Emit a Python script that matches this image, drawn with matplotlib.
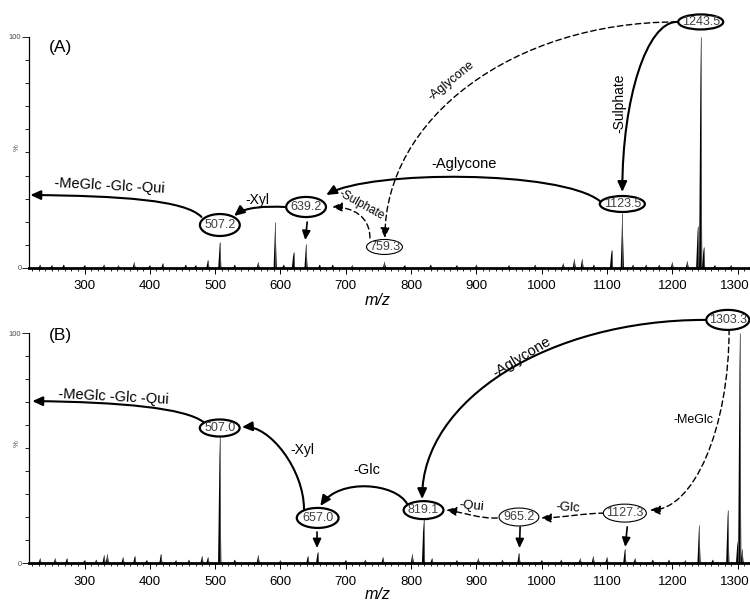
import matplotlib.pyplot as plt
from matplotlib.patches import Ellipse, FancyArrowPatch
from matplotlib.path import Path
from matplotlib.ticker import MultipleLocator
from matplotlib.transforms import offset_copy

plt.rcParams['font.family'] = ['Liberation Sans', 'DejaVu Sans']

# ---------------- data ----------------
# (A) m/z and relative intensity (%)
mz_a = [232, 250, 268, 300, 330, 352, 376, 400, 420, 455, 470, 489, 507.2, 530, 566,
        592, 605, 620, 639.2, 660, 680, 710, 759.3, 790, 830, 870, 900, 950, 990,
        1033, 1050, 1062, 1080, 1107, 1123.5, 1140, 1160, 1180, 1200, 1223,
        1239, 1243.5, 1248, 1265, 1290]
int_a = [1.5, 1.2, 1.5, 1.2, 1.5, 1.2, 2.5, 1.2, 2, 1.5, 1.2, 3.5, 11.3, 1.5, 2.5,
         20, 1.5, 7, 10.4, 1.5, 1.5, 1.2, 2.8, 1.2, 1.5, 1.2, 1.5, 1.2, 1.5,
         2, 4, 4, 1.5, 8, 24, 1.5, 1.5, 1.5, 2.5, 3,
         18, 100, 9, 1.2, 1.2]

# (B)
mz_b = [232, 255, 273, 300, 318, 330, 335, 359, 377, 395, 417, 440, 460, 480, 489,
        507.0, 530, 566, 600, 642, 657.0, 700, 730, 757, 802, 819.1, 832, 870, 903,
        940, 965.2, 1000, 1030, 1059, 1079, 1100, 1127.3, 1143, 1170, 1195, 1220,
        1241, 1262, 1285, 1300, 1303.3, 1307]
int_b = [2, 2, 2, 1.2, 1.5, 3.5, 4, 2.5, 3, 1.2, 4, 1.2, 1.5, 3, 2.5,
         55, 1.5, 3.5, 1.2, 3, 4.8, 1.2, 1.5, 2.5, 4, 19, 2, 1.2, 2,
         1.5, 4.5, 1.2, 1.5, 2, 3, 2.5, 6, 2, 1.5, 1.5, 1.2,
         16.5, 1.5, 23, 10, 100, 6]

# ion labels: text, x (m/z), y (%), ellipse width (m/z), height (%), bold outline
ions_a = [('1243.5', 1243.5, 106.5, 69, 6.5, True),
          ('1123.5', 1123.5, 27.7, 69, 6.9, True),
          ('639.2', 639.2, 26.4, 61, 8.7, True),
          ('507.2', 507.2, 18.6, 61, 9.5, True),
          ('759.3', 759.3, 9.1, 55, 6.5, False)]
ions_b = [('1303.3', 1285, 105.7, 66, 8.7, True),
          ('819.1', 819.1, 23.0, 61, 7.8, True),
          ('965.2', 965.2, 20.0, 61, 7.8, False),
          ('1127.3', 1127.3, 21.7, 66, 7.8, False),
          ('657.0', 657.0, 19.6, 64, 8.7, True),
          ('507.0', 507.0, 58.7, 61, 7.4, True)]

# fragmentation arrows: bezier control points (m/z, %), dashed?
arrows_a = [([(1207, 106.5), (1161, 106.5), (1123.5, 73.4), (1123.5, 32.9)], False),
            ([(1207, 106.5), (955, 106.5), (760, 64.5), (760, 13.0)], True),
            ([(1089, 29.0), (1028, 42.4), (737, 42.4), (670, 31.6)], False),
            ([(737, 13.0), (737, 22.0), (712, 26.4), (679, 26.4)], True),
            ([(607, 26.4), (577, 26.8), (546, 26.4), (529, 22.5)], False),
            ([(479, 22.1), (454, 29.4), (355, 31.2), (217, 31.6)], False)]
arrows_b = [([(1250, 105.7), (1011, 105.7), (817, 70.9), (817, 27.8)], False),
            ([(1287, 101.7), (1287, 58.4), (1233, 23.0), (1166, 23.0)], True),
            ([(1096, 21.7), (1066, 21.7), (1028, 19.6), (999, 19.6)], True),
            ([(932, 19.6), (906, 19.1), (878, 22.2), (854, 23.0)], True),
            ([(794, 25.7), (776, 34.8), (691, 37.0), (661, 24.8)], False),
            ([(636, 23.5), (636, 40.4), (584, 60.0), (541, 59.1)], False),
            ([(482, 61.3), (454, 67.4), (355, 70.0), (220, 70.4)], False)]

# short arrows pointing at peaks: (from), (to)
pointers_a = [((641, 19.9), (638, 12.1))]
pointers_b = [((656, 13.5), (656, 6.5)), ((967, 15.7), (966, 6.5)), ((1131, 15.7), (1128, 7.0))]

# losses: text, x, y, rotation, fontsize
losses_a = [('-Sulphate', 1119, 71.4, 90, 10),
            ('-Aglycone', 862, 81.0, 39, 9),
            ('-Aglycone', 881, 45.0, 0, 10.5),
            ('-Sulphate', 724, 27.3, -29, 8.5),
            ('-Xyl', 564, 29.4, 0, 10),
            ('-MeGlc -Glc -Qui', 338, 35.5, -3, 10.5),
            ('(A)', 263, 95.5, 0, 12.5)]
losses_b = [('-Aglycone', 970, 89.6, 31, 10.5),
            ('-MeGlc', 1232, 62.2, 0, 9),
            ('-Glc', 1040, 23.9, -4, 9.5),
            ('-Qui', 893, 24.8, -5, 9.5),
            ('-Glc', 733, 40.4, 0, 10.5),
            ('-Xyl', 634, 49.1, 0, 10),
            ('-MeGlc -Glc -Qui', 345, 72.2, -3, 10.5),
            ('(B)', 263, 99.1, 0, 12.5)]


def draw_panel(ax, mz, inten, ions, arrows, pointers, losses):
    # peaks: thin stick plus narrow triangle so the base looks heavier
    ax.vlines(mz, 0, inten, color='0.35', lw=0.6)
    for m, h in zip(mz, inten):
        ax.fill([m - 2.5, m, m + 2.5], [0, h, 0], color='k', lw=0)

    ax.set_xlim(215, 1319)
    ax.set_ylim(0, 100)
    for s in ['top', 'right']:
        ax.spines[s].set_visible(False)
    ax.spines['bottom'].set_linewidth(2.0)
    ax.spines['left'].set_linewidth(0.9)
    ax.spines['left'].set_bounds(0, 100)

    ax.set_xticks(range(300, 1400, 100))
    ax.xaxis.set_minor_locator(MultipleLocator(10))
    ax.tick_params(axis='x', which='major', length=4.5, width=0.7, labelsize=9.5, pad=4.5)
    ax.tick_params(axis='x', which='minor', length=2.5, width=0.6)
    ax.set_yticks([0, 100])
    ax.set_yticklabels(['0', '100'])
    ax.yaxis.set_minor_locator(MultipleLocator(10))
    ax.tick_params(axis='y', which='major', length=5, width=0.6, labelsize=5.5, pad=0.5,
                   labelcolor='0.3')
    ax.tick_params(axis='y', which='minor', length=3, width=0.6)
    ax.text(-0.012, 0.52, '%', transform=ax.transAxes, rotation=90, fontsize=5.5,
            ha='right', va='center', color='0.3')
    ax.text(0.483, -0.139, 'm/z', transform=ax.transAxes, style='italic', fontsize=11.5,
            ha='center', va='center')

    for pts, dashed in arrows:
        path = Path(pts, [Path.MOVETO, Path.CURVE4, Path.CURVE4, Path.CURVE4])
        ar = FancyArrowPatch(path=path, arrowstyle='-|>,head_length=0.55,head_width=0.25',
                             mutation_scale=11, lw=1.0 if dashed else 1.5,
                             ls=(0, (4, 2.5)) if dashed else '-', color='k', clip_on=False)
        ax.add_patch(ar)

    for p0, p1 in pointers:
        ax.annotate('', xy=p1, xytext=p0,
                    arrowprops=dict(arrowstyle='-|>,head_length=0.55,head_width=0.25',
                                    mutation_scale=10, lw=1.2, color='k',
                                    shrinkA=0, shrinkB=0))

    for txt, x, y, w, h, bold in ions:
        ax.add_patch(Ellipse((x, y), w, h, facecolor='white', edgecolor='k',
                             lw=1.6 if bold else 0.8, clip_on=False, zorder=5))
        ax.text(x, y, txt, ha='center', va='center', fontsize=9, color='0.25', zorder=6)

    for txt, x, y, rot, fs in losses:
        ax.text(x, y, txt, ha='center', va='center', rotation=rot, fontsize=fs,
                rotation_mode='anchor', zorder=6)


fig = plt.figure(figsize=(7.5, 6.01), dpi=100)
ax_a = fig.add_axes([0.0387, 0.5541, 0.9613, 0.3844])
ax_b = fig.add_axes([0.0387, 0.0632, 0.9613, 0.3827])

draw_panel(ax_a, mz_a, int_a, ions_a, arrows_a, pointers_a, losses_a)
draw_panel(ax_b, mz_b, int_b, ions_b, arrows_b, pointers_b, losses_b)

# the last tick label sits right at the figure edge; nudge it inwards a little
fig.canvas.draw()
for ax in (ax_a, ax_b):
    lab = ax.get_xticklabels()[-1]
    lab.set_transform(offset_copy(lab.get_transform(), fig=fig, x=-3, y=0, units='dots'))

fig.savefig('out.png', dpi=100)
